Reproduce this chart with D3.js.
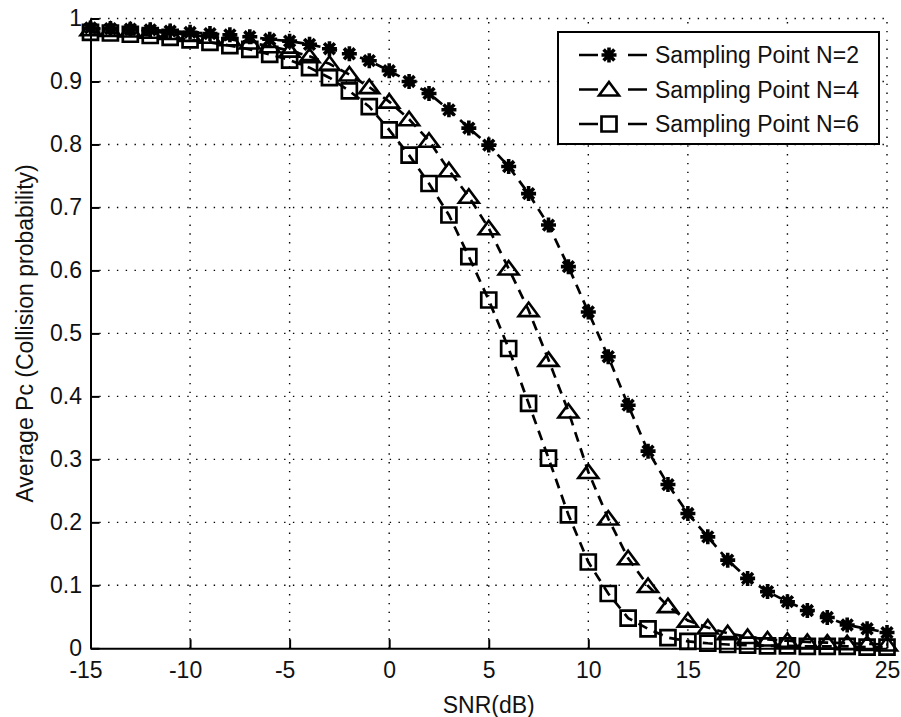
<!DOCTYPE html>
<html>
<head>
<meta charset="utf-8">
<script src="https://cdn.jsdelivr.net/npm/d3@7/dist/d3.min.js"></script>
<style>
	body { margin: 0; background: #fff; }
	svg { display: block; font-family: 'Liberation Sans', Arial, sans-serif; }
</style>
</head>
<body>
<svg id="chart" width="901" height="717"></svg>
<script>
const snr = d3.range(-15, 26)

const pcN2 = [
	0.985, 0.984, 0.983, 0.982, 0.98, 0.978, 0.976, 0.974, 0.971, 0.967,
	0.964, 0.959, 0.952, 0.944, 0.933, 0.917, 0.9, 0.881, 0.855, 0.826,
	0.799, 0.765, 0.722, 0.672, 0.606, 0.534, 0.463, 0.386, 0.313, 0.26,
	0.214, 0.177, 0.14, 0.111, 0.09, 0.074, 0.06, 0.049, 0.037, 0.031, 0.025,
]
const pcN4 = [
	0.983, 0.982, 0.981, 0.979, 0.977, 0.974, 0.971, 0.967, 0.962, 0.956,
	0.949, 0.94, 0.928, 0.911, 0.891, 0.868, 0.84, 0.806, 0.759, 0.717,
	0.667, 0.603, 0.537, 0.458, 0.376, 0.28, 0.206, 0.143, 0.099, 0.067,
	0.044, 0.033, 0.024, 0.018, 0.014, 0.012, 0.01, 0.009, 0.008, 0.007, 0.006,
]
const pcN6 = [
	0.978, 0.977, 0.975, 0.973, 0.97, 0.966, 0.962, 0.957, 0.951, 0.943,
	0.934, 0.922, 0.906, 0.885, 0.86, 0.823, 0.783, 0.738, 0.688, 0.622,
	0.553, 0.476, 0.389, 0.302, 0.212, 0.137, 0.087, 0.048, 0.031, 0.017,
	0.011, 0.008, 0.006, 0.005, 0.004, 0.004, 0.003, 0.003, 0.003, 0.002, 0.002,
]

const seriesNames = ['Sampling Point N=2', 'Sampling Point N=4', 'Sampling Point N=6']
const xTicks = [-15, -10, -5, 0, 5, 10, 15, 20, 25]
const xTickLabels = ['-15', '-10', '-5', '0', '5', '10', '15', '20', '25']
const yTicks = [0, 0.1, 0.2, 0.3, 0.4, 0.5, 0.6, 0.7, 0.8, 0.9, 1]
const yTickLabels = ['0', '0.1', '0.2', '0.3', '0.4', '0.5', '0.6', '0.7', '0.8', '0.9', '1']

const svg = d3.select('#chart')
const fontSize = 23

const x = d3.scaleLinear().domain([-15, 25]).range([90.5, 887])
const y = d3.scaleLinear().domain([0, 1]).range([648.3, 18.5])

// marker shapes (matlab '*', '^', 's')
const starType = {
	draw(ctx) {
		const r = 7.5
		const d = r * 0.72
		ctx.moveTo(0, -r)
		ctx.lineTo(0, r)
		ctx.moveTo(-r, 0)
		ctx.lineTo(r, 0)
		ctx.moveTo(-d, -d)
		ctx.lineTo(d, d)
		ctx.moveTo(-d, d)
		ctx.lineTo(d, -d)
	},
}
const triType = {
	draw(ctx) {
		ctx.moveTo(0, -7.5)
		ctx.lineTo(10, 6)
		ctx.lineTo(-10, 6)
		ctx.closePath()
	},
}
const squareType = {
	draw(ctx) {
		ctx.rect(-7.5, -7.5, 15, 15)
	},
}

const series = [
	{ name: seriesNames[0], values: pcN2, type: starType, width: 3.6 },
	{ name: seriesNames[1], values: pcN4, type: triType, width: 2.6 },
	{ name: seriesNames[2], values: pcN6, type: squareType, width: 2.7 },
]

// grid
const grid = svg.append('g').attr('class', 'grid')
grid.selectAll('line.gx')
	.data(xTicks.slice(1))
	.enter()
	.append('line')
	.attr('x1', d => x(d))
	.attr('x2', d => x(d))
	.attr('y1', y(0))
	.attr('y2', y(1))
grid.selectAll('line.gy')
	.data(yTicks.slice(1))
	.enter()
	.append('line')
	.attr('x1', x(-15))
	.attr('x2', x(25))
	.attr('y1', d => y(d))
	.attr('y2', d => y(d))
grid.selectAll('line')
	.attr('stroke', '#000')
	.attr('stroke-width', 1.4)
	.attr('stroke-dasharray', '1.4,7.4')

// axes
const xAxis = d3
	.axisBottom(x)
	.tickValues(xTicks)
	.tickFormat((d, i) => xTickLabels[i])
	.tickSizeInner(-9)
	.tickSizeOuter(0)
	.tickPadding(13)
const yAxis = d3
	.axisLeft(y)
	.tickValues(yTicks)
	.tickFormat((d, i) => yTickLabels[i])
	.tickSizeInner(-9)
	.tickSizeOuter(0)
	.tickPadding(8.5)

const gx = svg.append('g').attr('transform', `translate(0,${y(0)})`).call(xAxis)
const gy = svg.append('g').attr('transform', `translate(${x(-15)},0)`).call(yAxis)
;[gx, gy].forEach(g => {
	g.select('.domain').attr('stroke', '#000').attr('stroke-width', 2)
	g.selectAll('.tick line').attr('stroke', '#000').attr('stroke-width', 2)
	g.selectAll('.tick text')
		.attr('fill', '#111')
		.style('font-size', fontSize + 'px')
		.style('font-family', "'Liberation Sans', Arial, sans-serif")
})
gx.selectAll('.tick text').attr('dx', d => (d < 0 ? -5 : 0))
gy.selectAll('.tick text').attr('dy', '0.3em')

svg.append('text')
	.attr('x', (x(-15) + x(25)) / 2)
	.attr('y', 713)
	.attr('text-anchor', 'middle')
	.attr('fill', '#111')
	.style('font-size', fontSize + 'px')
	.text('SNR(dB)')
svg.append('text')
	.attr('transform', `translate(33,${(y(0) + y(1)) / 2}) rotate(-90)`)
	.attr('text-anchor', 'middle')
	.attr('fill', '#111')
	.style('font-size', fontSize + 'px')
	.text('Average Pc (Collision probability)')

// curves
const line = d3
	.line()
	.x(d => x(d[0]))
	.y(d => y(d[1]))

series.forEach(s => {
	const pts = snr.map((v, i) => [v, s.values[i]])
	const g = svg.append('g')
	g.append('path')
		.attr('d', line(pts))
		.attr('fill', 'none')
		.attr('stroke', '#000')
		.attr('stroke-width', 2.7)
		.attr('stroke-dasharray', '10,7')
	g.selectAll('path.mk')
		.data(pts)
		.enter()
		.append('path')
		.attr('class', 'mk')
		.attr('d', d3.symbol().type(s.type))
		.attr('transform', d => `translate(${x(d[0])},${y(d[1])})`)
		.attr('fill', 'none')
		.attr('stroke', '#000')
		.attr('stroke-width', s.width)
})

// legend
const legend = svg.append('g')
legend.append('rect')
	.attr('x', 558)
	.attr('y', 32)
	.attr('width', 321)
	.attr('height', 112)
	.attr('fill', '#fff')
	.attr('stroke', '#000')
	.attr('stroke-width', 2)

const rows = legend.selectAll('g.row')
	.data(series)
	.enter()
	.append('g')
	.attr('transform', (d, i) => `translate(0,${55 + i * 34.5})`)
rows.append('line')
	.attr('x1', 579)
	.attr('x2', 647)
	.attr('stroke', '#000')
	.attr('stroke-width', 2.7)
	.attr('stroke-dasharray', '19,30')
rows.append('path')
	.attr('d', d => d3.symbol().type(d.type)())
	.attr('transform', 'translate(609,0)')
	.attr('fill', 'none')
	.attr('stroke', '#000')
	.attr('stroke-width', d => d.width)
rows.append('text')
	.attr('x', 655)
	.attr('y', 8.3)
	.attr('fill', '#111')
	.style('font-size', fontSize + 'px')
	.text(d => d.name)
</script>
</body>
</html>
